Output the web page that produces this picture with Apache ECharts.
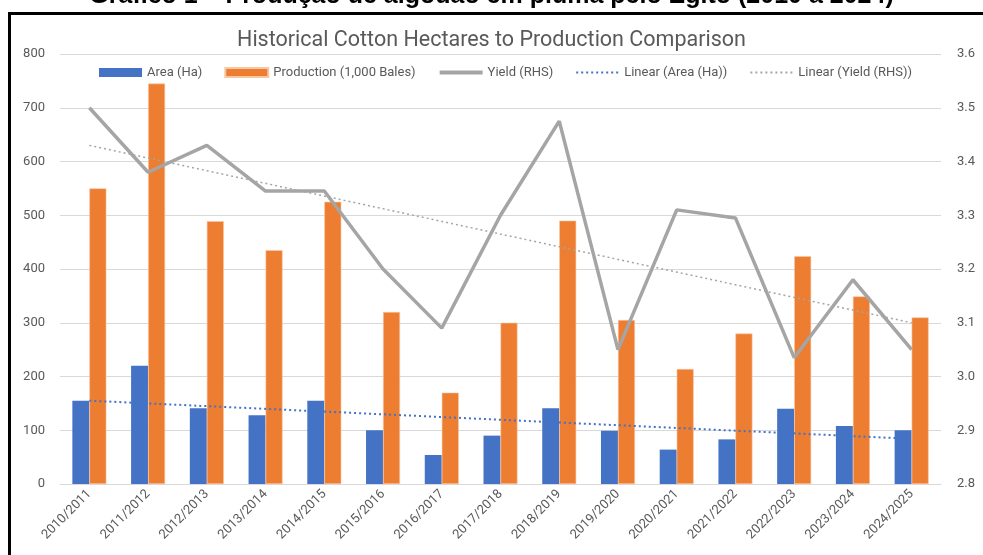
<!DOCTYPE html>
<html>
<head>
<meta charset="utf-8">
<title>Historical Cotton Hectares to Production Comparison</title>
<script src="https://cdn.jsdelivr.net/npm/echarts@6/dist/echarts.min.js"></script>
<style>
  html, body { margin: 0; padding: 0; background: #fff; }
  #main { width: 983px; height: 555px; }
</style>
</head>
<body>
<div id="main"></div>
<script>
  var categories = ['2010/2011', '2011/2012', '2012/2013', '2013/2014', '2014/2015',
    '2015/2016', '2016/2017', '2017/2018', '2018/2019', '2019/2020',
    '2020/2021', '2021/2022', '2022/2023', '2023/2024', '2024/2025'];
  var areaHa = [155, 220, 141, 128, 155, 100, 54, 90, 141, 99, 64, 83, 140, 108, 100];
  var production = [550, 745, 489, 435, 525, 320, 170, 300, 490, 305, 214, 280, 424, 349, 310];
  var yieldRhs = [3.50, 3.38, 3.43, 3.345, 3.345, 3.20, 3.09, 3.30, 3.475, 3.05, 3.31, 3.295, 3.035, 3.18, 3.05];
  // trendlines: only the two ends, joined straight
  var trendArea = [155, null, null, null, null, null, null, null, null, null, null, null, null, null, 84];
  var trendYield = [3.43, null, null, null, null, null, null, null, null, null, null, null, null, null, 3.10];
  var leftTicks = [0, 800, 100];
  var rightTicks = [2.8, 3.6, 0.1];

  var font = 'Roboto, sans-serif';
  var grey = '#595959';
  var noMarker = { opacity: 0 };

  var myChart = echarts.init(document.getElementById('main'));
  myChart.setOption({
    animation: false,
    backgroundColor: '#fff',
    textStyle: { fontFamily: font },
    title: {
      text: 'Historical Cotton Hectares to Production Comparison',
      left: 'center',
      top: 25,
      textStyle: { fontFamily: font, fontSize: 21.5, fontWeight: 'normal', color: grey }
    },
    graphic: [
      {
        type: 'text',
        left: 'center',
        top: -16,
        style: {
          text: 'Gráfico 1 – Produção de algodão em pluma pelo Egito (2010 a 2024)',
          font: 'bold 25px Liberation Sans, sans-serif',
          fill: '#000'
        }
      },
      {
        type: 'rect',
        shape: { x: 9.5, y: 13.5, width: 1200, height: 800 },
        style: { fill: 'none', stroke: '#000', lineWidth: 3 },
        z: 100
      }
    ],
    legend: {
      left: 94,
      top: 61,
      itemGap: 22,
      itemWidth: 43,
      itemHeight: 9,
      textStyle: { fontFamily: font, fontSize: 13, color: grey },
      data: [
        { name: 'Area (Ha)', icon: 'rect' },
        { name: 'Production (1,000 Bales)', icon: 'rect' },
        { name: 'Yield (RHS)', itemStyle: noMarker, lineStyle: { width: 4 } },
        { name: 'Linear (Area (Ha))', itemStyle: noMarker },
        { name: 'Linear (Yield (RHS))', itemStyle: noMarker }
      ]
    },
    grid: {
      left: 60,
      right: 42,
      top: 54,
      bottom: 71
    },
    xAxis: {
      type: 'category',
      data: categories,
      axisLine: { lineStyle: { color: '#d9d9d9' } },
      axisTick: { show: false },
      axisLabel: {
        rotate: 45,
        interval: 0,
        margin: 8,
        color: grey,
        fontSize: 13,
        fontFamily: font
      }
    },
    yAxis: [
      {
        type: 'value',
        min: leftTicks[0],
        max: leftTicks[1],
        interval: leftTicks[2],
        axisLine: { show: false },
        axisTick: { show: false },
        splitLine: { lineStyle: { color: '#d9d9d9', width: 1 } },
        axisLabel: { color: grey, fontSize: 13, fontFamily: font, margin: 15 }
      },
      {
        type: 'value',
        min: rightTicks[0],
        max: rightTicks[1],
        interval: rightTicks[2],
        axisLine: { show: false },
        axisTick: { show: false },
        splitLine: { show: false },
        axisLabel: {
          color: grey, fontSize: 13, fontFamily: font, margin: 16,
          formatter: function (v) { return v.toFixed(1); }
        }
      }
    ],
    series: [
      {
        name: 'Area (Ha)',
        type: 'bar',
        data: areaHa,
        barWidth: 17,
        barGap: '0%',
        itemStyle: { color: '#4472c4' }
      },
      {
        name: 'Production (1,000 Bales)',
        type: 'bar',
        data: production,
        barWidth: 17,
        barGap: '0%',
        itemStyle: { color: '#ed7d31', borderColor: '#f7c7a6', borderWidth: 0.6 }
      },
      {
        name: 'Yield (RHS)',
        type: 'line',
        yAxisIndex: 1,
        data: yieldRhs,
        symbol: 'none',
        z: 5,
        lineStyle: { color: '#a5a5a5', width: 3.5 },
        itemStyle: { color: '#a5a5a5' }
      },
      {
        name: 'Linear (Area (Ha))',
        type: 'line',
        data: trendArea,
        connectNulls: true,
        symbol: 'none',
        z: 6,
        lineStyle: { color: '#4472c4', width: 2, type: [2, 3] },
        itemStyle: { color: '#4472c4' }
      },
      {
        name: 'Linear (Yield (RHS))',
        type: 'line',
        yAxisIndex: 1,
        data: trendYield,
        connectNulls: true,
        symbol: 'none',
        z: 6,
        lineStyle: { color: '#a5a5a5', width: 1.5, type: [2, 3] },
        itemStyle: { color: '#a5a5a5' }
      }
    ]
  });
</script>
</body>
</html>
